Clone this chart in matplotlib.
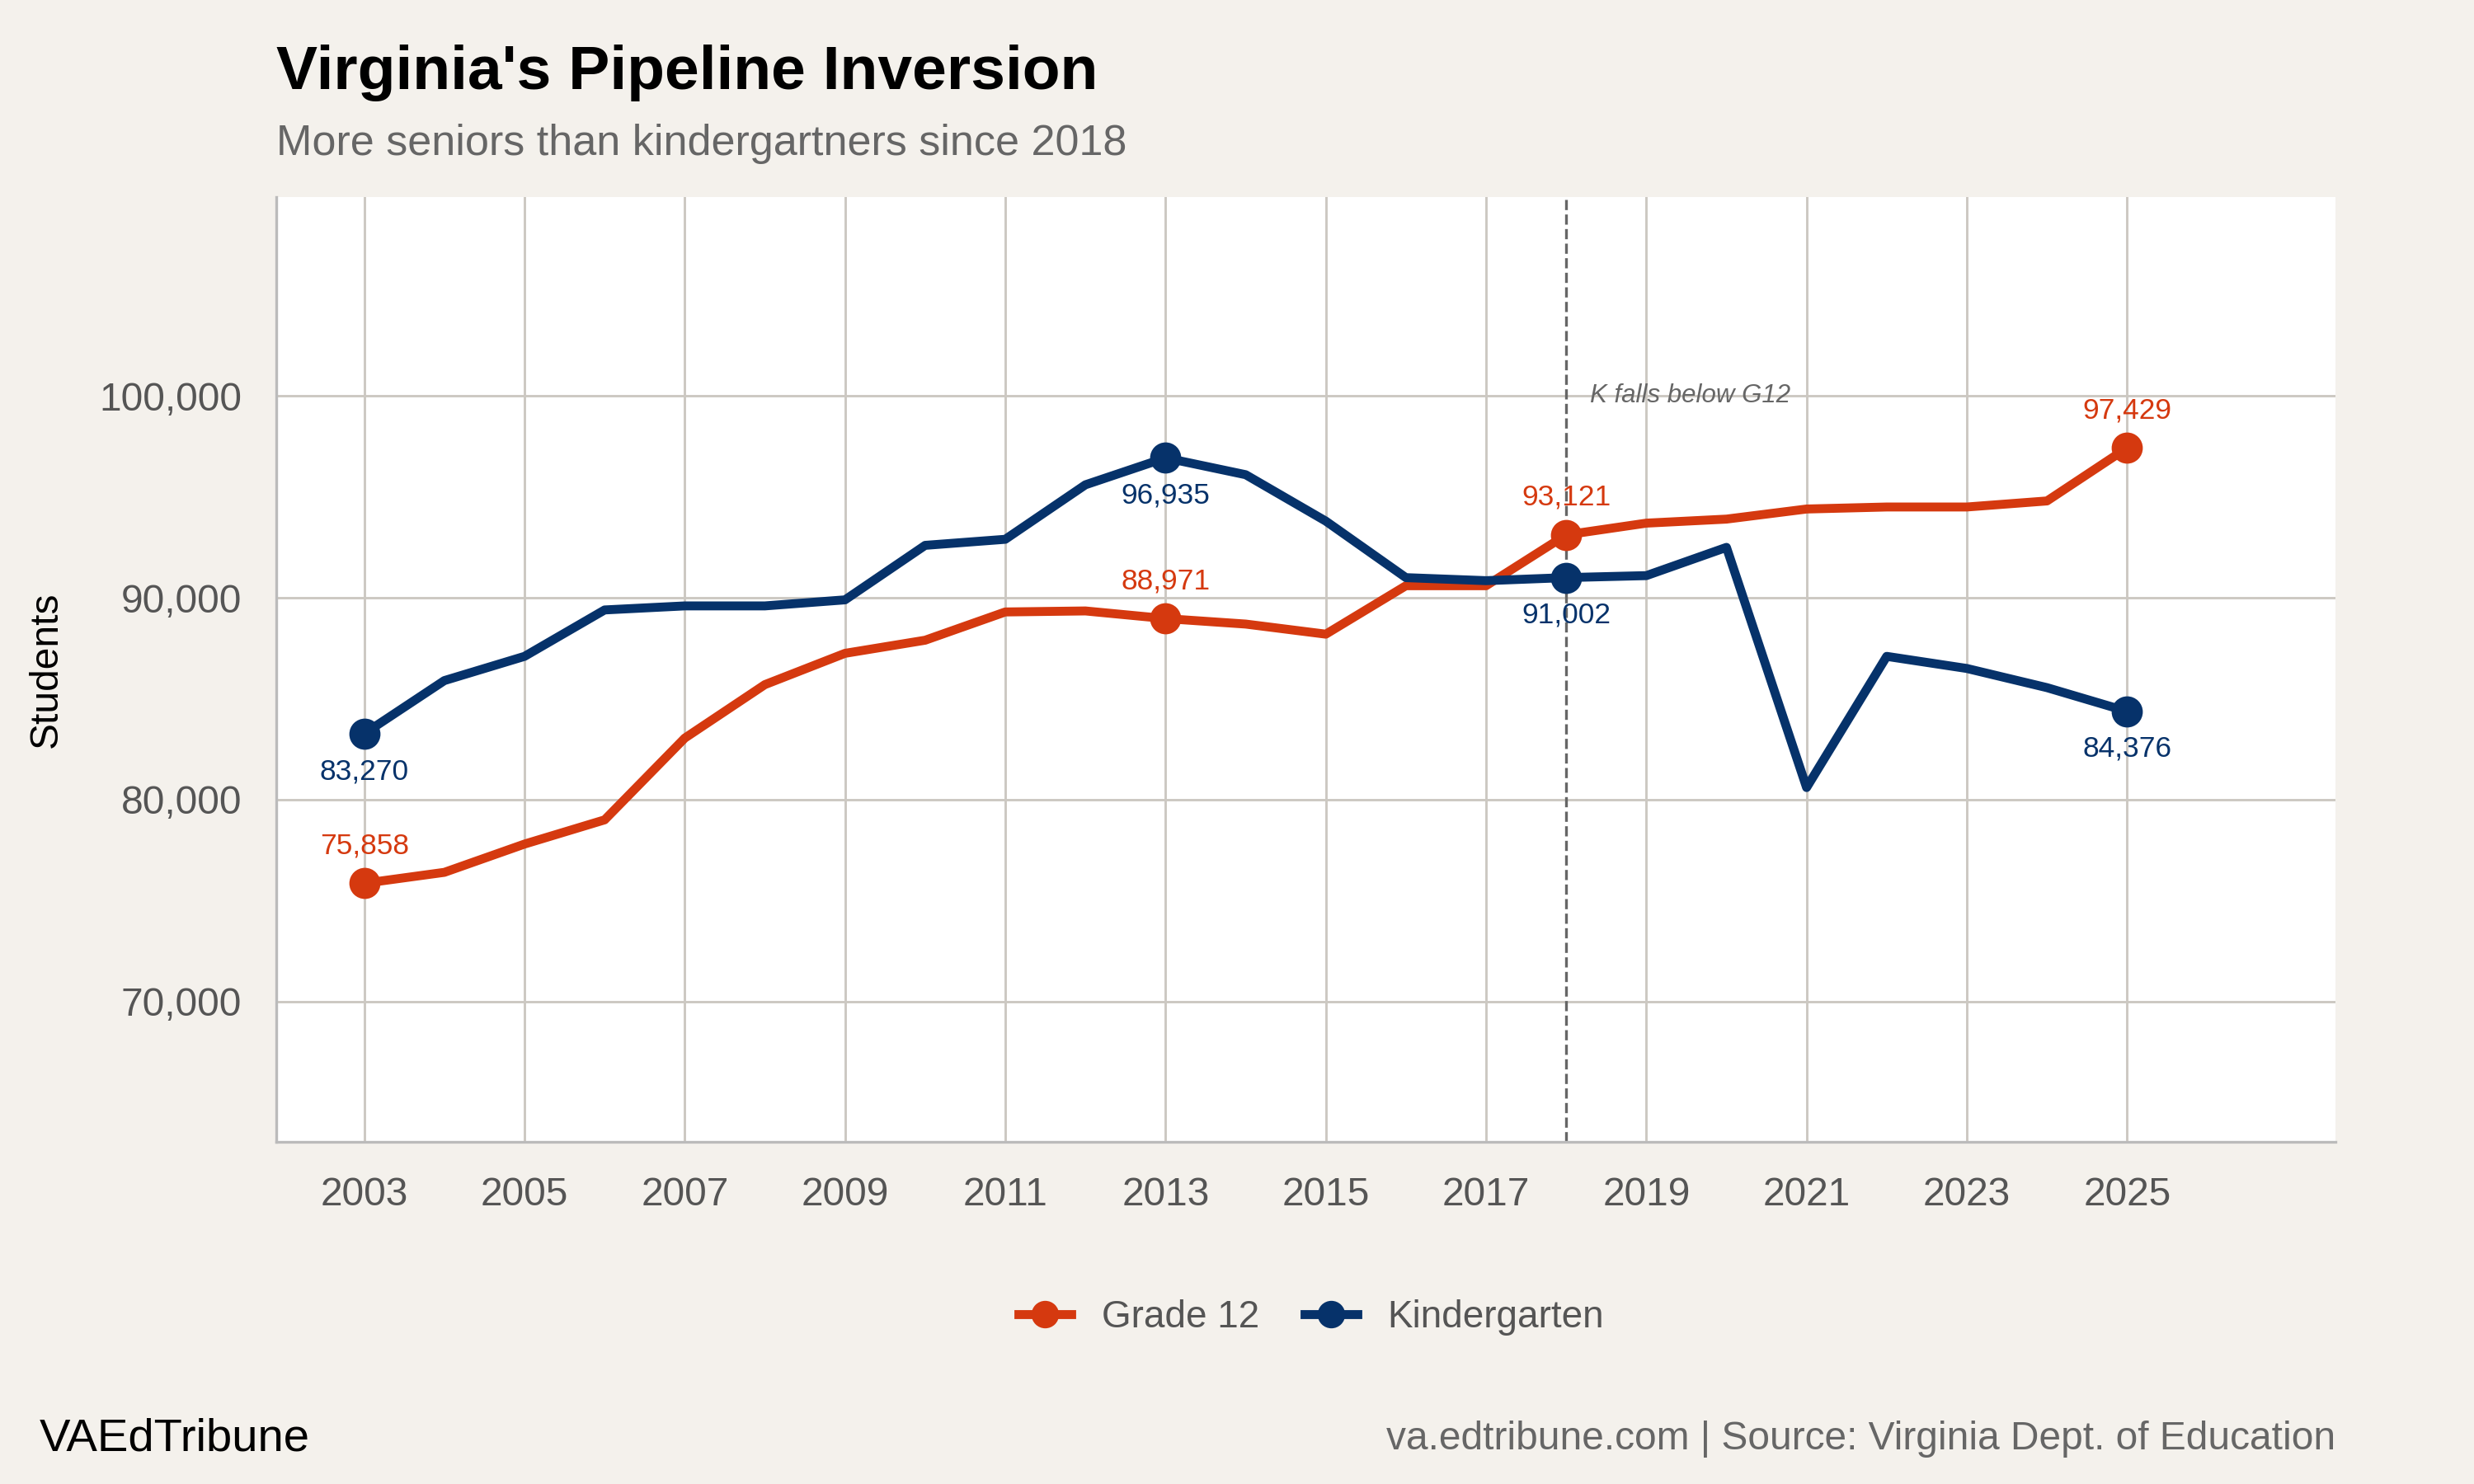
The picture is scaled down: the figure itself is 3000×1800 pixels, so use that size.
import matplotlib
matplotlib.use("Agg")
import matplotlib.pyplot as plt
from matplotlib.lines import Line2D

plt.rcParams['font.family'] = ['Liberation Sans', 'DejaVu Sans']

years = list(range(2003, 2026))
grade12 = [75858, 76400, 77800, 79000, 83050, 85700, 87250, 87900, 89300, 89350, 88971,
           88700, 88200, 90600, 90600, 93121, 93700, 93900, 94400, 94500, 94500, 94800, 97429]
kinder = [83270, 85900, 87100, 89400, 89600, 89600, 89900, 92600, 92900, 95600, 96935,
          96100, 93800, 91000, 90850, 91002, 91100, 92500, 80600, 87100, 86500, 85550, 84376]
label_years = [2003, 2013, 2018, 2025]

ORANGE = '#D5390F'
NAVY = '#06326A'
BG = '#F4F1EC'

fig = plt.figure(figsize=(10, 6), dpi=300, facecolor=BG)
ax = fig.add_axes([0.1116, 0.2306, 0.8324, 0.6364])
ax.set_facecolor('white')

ax.plot(years, grade12, color=ORANGE, lw=2.6, zorder=3)
ax.plot(years, kinder, color=NAVY, lw=2.6, zorder=3)
for y in label_years:
    i = years.index(y)
    ax.scatter(y, grade12[i], s=65, color=ORANGE, zorder=4)
    ax.scatter(y, kinder[i], s=65, color=NAVY, zorder=4)
    ax.annotate(f"{grade12[i]:,}", (y, grade12[i]), xytext=(0, 7), textcoords='offset points',
                ha='center', va='bottom', color=ORANGE, fontsize=8.5)
    ax.annotate(f"{kinder[i]:,}", (y, kinder[i]), xytext=(0, -7), textcoords='offset points',
                ha='center', va='top', color=NAVY, fontsize=8.5)

ax.axvline(2018, color='#666666', ls='--', lw=0.8, zorder=2)
ax.text(2018.3, 100000, 'K falls below G12', style='italic', color='#666666', fontsize=7.5,
        va='center', ha='left')

ax.set_xlim(2001.9, 2027.6)
ax.set_ylim(63050, 109840)
ax.set_xticks(range(2003, 2026, 2))
ax.set_yticks([70000, 80000, 90000, 100000])
ax.set_yticklabels(['70,000', '80,000', '90,000', '100,000'])
ax.grid(True, color='#CCC8C2', lw=0.7, zorder=0)
ax.set_axisbelow(True)
for s in ['top', 'right']:
    ax.spines[s].set_visible(False)
for s in ['left', 'bottom']:
    ax.spines[s].set_color('#BBBBBB')
ax.tick_params(length=0, labelsize=11.5, colors='#555555', pad=10)
ax.set_ylabel('Students', fontsize=11.5, color='black', labelpad=10)

handles = [Line2D([0], [0], color=ORANGE, lw=2.6, marker='o', ms=7),
           Line2D([0], [0], color=NAVY, lw=2.6, marker='o', ms=7)]
fig.legend(handles, ['Grade 12', 'Kindergarten'], loc='center', bbox_to_anchor=(0.53, 0.112),
           ncol=2, frameon=False, fontsize=11, handlelength=1.4, columnspacing=1.2,
           labelcolor='#555555')

fig.text(0.1116, 0.951, "Virginia's Pipeline Inversion", fontsize=18, fontweight='bold', va='center')
fig.text(0.1116, 0.903, 'More seniors than kindergartners since 2018', fontsize=12.5,
         color='#666666', va='center')
fig.text(0.016, 0.030, 'VAEdTribune', fontsize=13.5, va='center')
fig.text(0.944, 0.030, 'va.edtribune.com | Source: Virginia Dept. of Education', fontsize=11.5,
         color='#666666', va='center', ha='right')

fig.savefig('out.png', dpi=300, facecolor=BG)
